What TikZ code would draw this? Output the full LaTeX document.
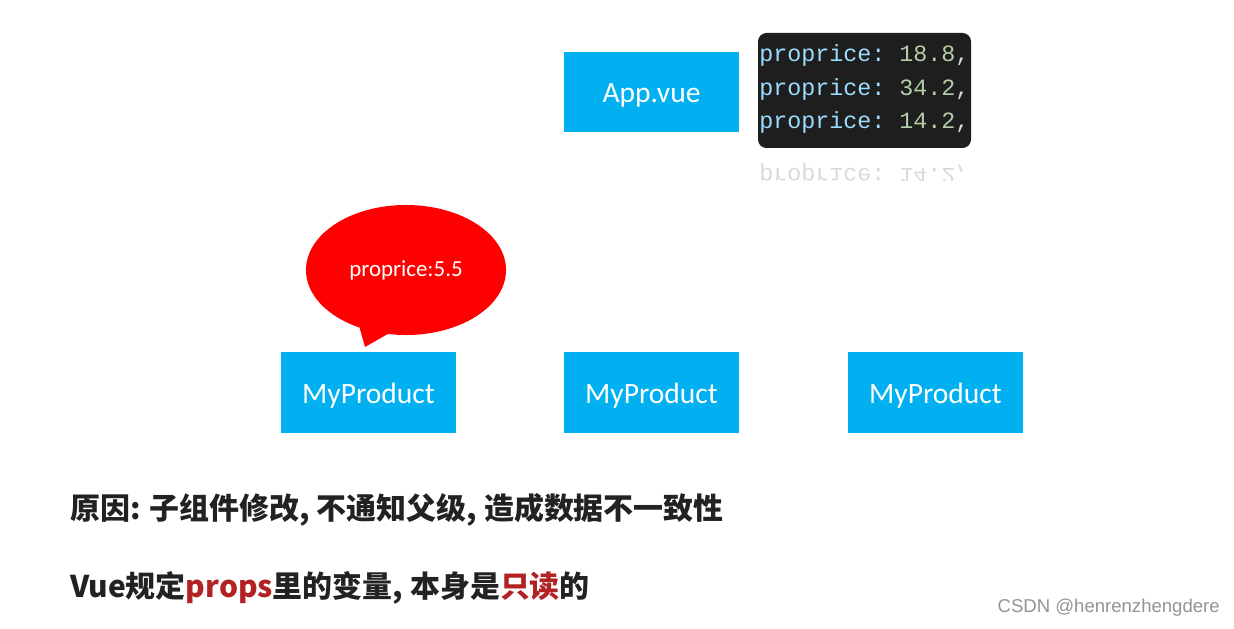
\documentclass[tikz,border=0pt]{standalone}
\usepackage{fontspec}
\setmainfont{Carlito}
\setmonofont{Liberation Mono}
\newfontfamily\cjk{Noto Sans CJK SC}
\newfontfamily\wmfont{Liberation Sans}
\usetikzlibrary{shapes.geometric,positioning}
\definecolor{vueblue}{HTML}{00B0F0}
\definecolor{codebg}{HTML}{1E1E1E}
\definecolor{codekey}{HTML}{9CDCFE}
\definecolor{codenum}{HTML}{B5CEA8}
\definecolor{hotred}{HTML}{B22222}
\definecolor{textblack}{HTML}{222222}
\newcommand{\codeline}[1]{\textcolor{codekey}{proprice:} \textcolor{codenum}{#1}\textcolor{white!85!black}{,}}

\begin{document}
\begin{tikzpicture}[x=0.025cm,y=-0.025cm,
  comp/.style={fill=vueblue,text=white,minimum width=4.375cm,minimum height=2cm,
    inner sep=0pt,text height=15.6pt,text depth=0pt,font=\fontsize{21}{24}\selectfont},
  code/.style={anchor=west,inner sep=0pt,font=\ttfamily\fontsize{16.6}{18}\selectfont},
  bubble/.style={ellipse,fill=red,text=white,minimum width=5cm,minimum height=3.25cm,
    inner sep=0pt,font=\fontsize{16.3}{18}\selectfont},
  note/.style={anchor=west,inner sep=0pt,text=textblack,font=\cjk\bfseries\fontsize{21.3}{24}\selectfont}]
\useasboundingbox (0,0) rectangle (1234,629);
%\draw [thin,gray] (0,0) rectangle (1234,629);
\node[comp] (app) at (651.5,92) {App.vue};
% code snippet
\fill[codebg,rounded corners=6pt] (758,33) rectangle (971,148);
\node[code] (c1) at (759,55) {\codeline{18.8}};
\node[code] (c2) at (759,89) {\codeline{34.2}};
\node[code] (c3) at (759,122) {\codeline{14.2}};
\begin{scope}
\clip (758,150) rectangle (971,181);
\node[code,yscale=-1,text=gray!30] (c3r) at (759,175) {proprice: 14.2,};
\end{scope}
% children
\node[comp] (p1) at (368.5,392.5) {MyProduct};
\node[comp] (p2) at (651.5,392.5) {MyProduct};
\node[comp] (p3) at (935.5,392.5) {MyProduct};
% speech bubble
\coordinate (tip) at (365,347);
\fill[red] (358,322) -- (tip) -- (393,331) -- cycle;
\node[bubble] (bubble) at (406,270) {proprice:5.5};
% notes
\node[note] (why) at (70,510) {原因: 子组件修改, 不通知父级, 造成数据不一致性};
\node[note] (rule) at (70,588) {Vue规定\textcolor{hotred}{props}里的变量, 本身是\textcolor{hotred}{只读}的};
\node[anchor=east,inner sep=0pt,text=gray!85,font=\wmfont\fontsize{13.2}{15}\selectfont] (wm) at (1220,608) {CSDN @henrenzhengdere};
\end{tikzpicture}
\end{document}
